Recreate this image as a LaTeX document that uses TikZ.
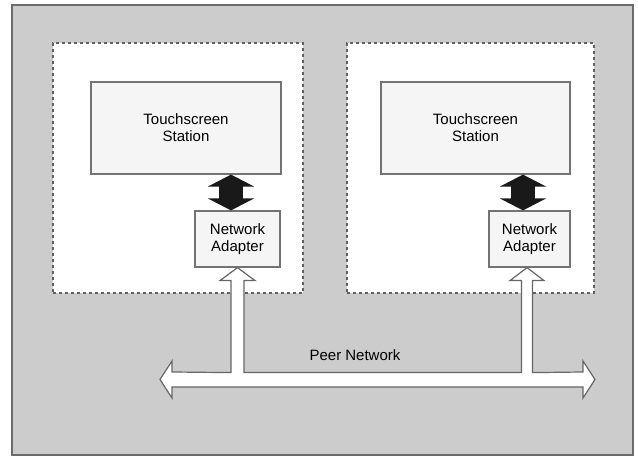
\documentclass[tikz,border=0pt]{standalone}
\usepackage{fontspec}
\setmainfont{Liberation Sans}
\usetikzlibrary{arrows.meta,calc}
\begin{document}
\begin{tikzpicture}[x=1pt,y=-1pt,
  lbl/.style={font=\fontsize{15}{17}\selectfont, text=black, align=center},
  frame/.style={draw=black!58, fill=black!20, line width=1.6pt, inner sep=0pt},
  zone/.style={draw=black!62, fill=white, line width=1.3pt, dash pattern=on 3pt off 3pt, inner sep=0pt},
  unit/.style={draw=black!55, fill=black!4, line width=1.2pt, lbl, inner sep=0pt},
  solidlink/.style={line width=24pt, draw=black!90,
    {Triangle[width=46pt,length=12pt]}-{Triangle[width=46pt,length=12pt]}},
  bus/.style={fill=white, draw=black!60, line width=1.2pt, line join=miter}
]
\useasboundingbox (0,0) rectangle (638,457);
\fill[white] (0,0) rectangle (638,457);

% outer gray panel
\node[frame, minimum width=621pt, minimum height=450pt] (panel) at (322.5,230) {};

% dotted zones, one per station
\node[zone, minimum width=250pt, minimum height=250pt] (zoneL) at (178,168) {};
\node[zone, minimum width=247pt, minimum height=250pt] (zoneR) at (470.5,168) {};

% touchscreen stations
\node[unit, minimum width=190pt, minimum height=92pt] (stationL) at (186,128) {Touchscreen\\Station};
\node[unit, minimum width=189pt, minimum height=92pt] (stationR) at (475.5,128) {Touchscreen\\Station};

% network adapters
\node[unit, minimum width=85pt, minimum height=56pt] (adapterL) at (237.5,239) {Network\\Adapter};
\node[unit, minimum width=81pt, minimum height=56pt] (adapterR) at (529.5,239) {Network\\Adapter};

% station <-> adapter links
\coordinate (linkL) at (231,0);
\coordinate (linkR) at (523,0);
\draw[solidlink] (stationL.south -| linkL) -- (adapterL.north -| linkL);
\draw[solidlink] (stationR.south -| linkR) -- (adapterR.north -| linkR);

% peer network bus with taps up to each adapter
\coordinate (tapL) at (adapterL.south);
\coordinate (tapR) at (adapterR.south -| 527,0);
\coordinate (busW) at (160,379.5);
\coordinate (busE) at (595,379.5);
\draw[bus]
  (busW) -- ++(12,-18.5) -- ++(0,11)
  -- ($(tapL)+(-6.5,105)$) -- ($(tapL)+(-6.5,13)$) -- ($(tapL)+(-17.5,13)$)
  -- (tapL) -- ($(tapL)+(17.5,13)$) -- ($(tapL)+(6.5,13)$) -- ($(tapL)+(6.5,105)$)
  -- ($(tapR)+(-5.5,105)$) -- ($(tapR)+(-5.5,13)$) -- ($(tapR)+(-17,13)$)
  -- (tapR) -- ($(tapR)+(17,13)$) -- ($(tapR)+(5.5,13)$) -- ($(tapR)+(5.5,105)$)
  -- ($(busE)+(-12,-7.5)$) -- ++(0,-11) -- (busE) -- ++(-12,18.5) -- ++(0,-11)
  -- ($(busW)+(12,7.5)$) -- ++(0,11) -- cycle;

\node[lbl] (peer) at (355,355) {Peer Network};
\end{tikzpicture}
\end{document}
